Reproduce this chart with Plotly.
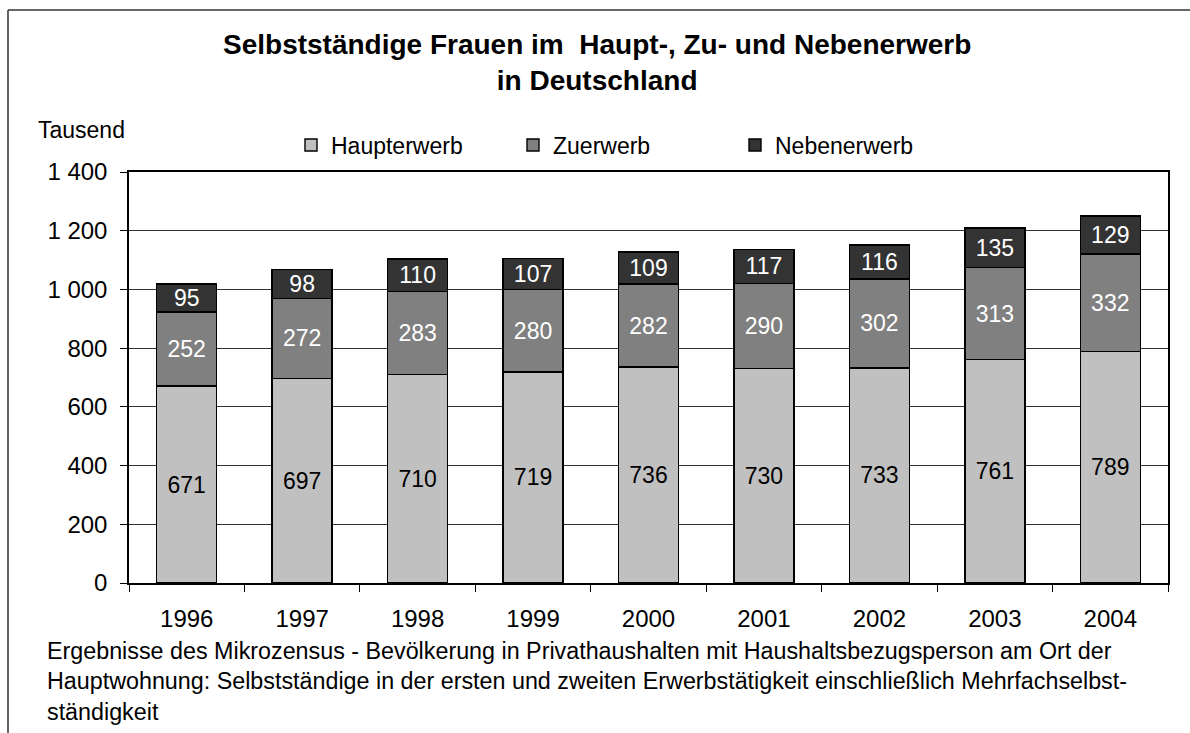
import plotly.graph_objects as go

years = ["1996", "1997", "1998", "1999", "2000", "2001", "2002", "2003", "2004"]
haupterwerb = [671, 697, 710, 719, 736, 730, 733, 761, 789]
zuerwerb = [252, 272, 283, 280, 282, 290, 302, 313, 332]
nebenerwerb = [95, 98, 110, 107, 109, 117, 116, 135, 129]
y_ticks = [0, 200, 400, 600, 800, 1000, 1200, 1400]
y_ticktext = ["0", "200", "400", "600", "800", "1 000", "1 200", "1 400"]

FONT = "Liberation Sans, Arial, sans-serif"
W, H = 1190, 733
L, R, T, B = 129, 1168, 172, 583


def px(x):
    return (x - L) / (R - L)


def py(y):
    return (B - y) / (B - T)


fig = go.Figure()
series = [
    ("Haupterwerb", haupterwerb, "#C0C0C0", "black"),
    ("Zuerwerb", zuerwerb, "#808080", "white"),
    ("Nebenerwerb", nebenerwerb, "#333333", "white"),
]
for name, vals, col, tcol in series:
    fig.add_trace(go.Bar(
        name=name, x=years, y=vals,
        marker=dict(color=col, line=dict(color="black", width=1.4)),
        text=[str(v) for v in vals], textposition="inside",
        insidetextanchor="middle", constraintext="none", textangle=0,
        textfont=dict(family=FONT, size=23, color=tcol),
        width=0.52,
    ))

fig.update_layout(
    barmode="stack",
    width=W, height=H,
    margin=dict(l=L, r=W - R, t=T, b=H - B, pad=0),
    paper_bgcolor="white", plot_bgcolor="white",
    font=dict(family=FONT, size=23, color="black"),
    showlegend=True,
    legend=dict(
        orientation="h", x=px(291), xanchor="left", y=py(145), yanchor="middle",
        font=dict(family=FONT, size=23, color="black"),
        entrywidth=177, itemwidth=30, traceorder="normal",
        bgcolor="rgba(0,0,0,0)",
    ),
)

fig.update_xaxes(
    showline=True, linecolor="black", linewidth=1.5, mirror=True,
    ticks="outside", tickson="boundaries", ticklen=7, tickcolor="black", tickwidth=1,
    tickfont=dict(family=FONT, size=24, color="black"),
    showgrid=False, ticklabelstandoff=13,
)
fig.update_yaxes(
    range=[0, 1400], tickvals=y_ticks, ticktext=y_ticktext,
    showline=True, linecolor="black", linewidth=1.5, mirror=True,
    ticks="outside", ticklen=7, tickcolor="black", tickwidth=1,
    tickfont=dict(family=FONT, size=24, color="black"),
    showgrid=True, gridcolor="#333333", gridwidth=1,
    zeroline=False, ticklabelstandoff=8,
)

# outer frame (top and left edges visible)
fig.add_shape(type="line", xref="paper", yref="paper",
              x0=px(8), x1=px(W + 5), y0=py(10), y1=py(10),
              line=dict(color="#333333", width=1.5))
fig.add_shape(type="line", xref="paper", yref="paper",
              x0=px(8), x1=px(8), y0=py(10), y1=py(H + 5),
              line=dict(color="#333333", width=1.5))

# chart title
fig.add_annotation(
    text="<b>Selbstständige Frauen im\u00a0 Haupt-, Zu- und Nebenerwerb<br>in Deutschland</b>",
    xref="paper", yref="paper", x=px(597), y=py(62), xanchor="center", yanchor="middle",
    align="center", showarrow=False, font=dict(family=FONT, size=28, color="black"))

fig.add_annotation(text="Tausend", xref="paper", yref="paper",
                   x=px(36), y=py(130), xanchor="left", yanchor="middle",
                   showarrow=False, font=dict(family=FONT, size=23, color="black"))

footnote = ("Ergebnisse des Mikrozensus - Bevölkerung in Privathaushalten mit Haushaltsbezugsperson am Ort der<br>"
            "Hauptwohnung: Selbstständige in der ersten und zweiten Erwerbstätigkeit einschließlich Mehrfachselbst-<br>"
            "ständigkeit")
fig.add_annotation(text=footnote, xref="paper", yref="paper",
                   x=px(45), y=py(636), xanchor="left", yanchor="top", align="left",
                   showarrow=False, font=dict(family=FONT, size=23.3, color="black"))

fig.write_html("out.html", config={"displayModeBar": False},
               post_script="document.body.style.margin='0px';")
